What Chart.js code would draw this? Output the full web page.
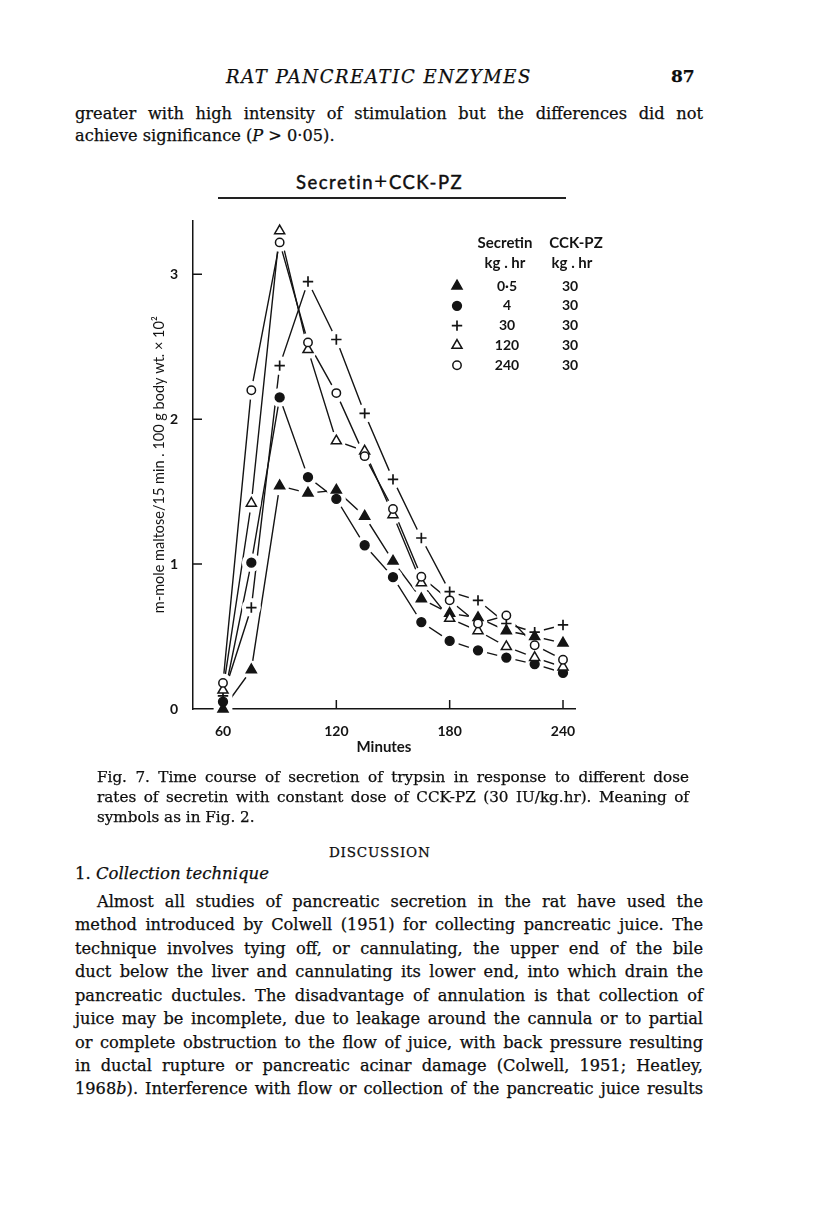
<!DOCTYPE html>
<html>
<head>
<meta charset="utf-8">
<script src="https://cdn.jsdelivr.net/npm/chart.js@4.4.0/dist/chart.umd.min.js"></script>
<style>
html, body { margin: 0; padding: 0; background: #fff; }
body { width: 816px; height: 1221px; position: relative; overflow: hidden; font-family: 'DejaVu Serif', serif; color: #0d0d0d; -webkit-text-stroke: 0.25px #0d0d0d; }
.t { position: absolute; white-space: nowrap; }
.jl { position: absolute; left: 75px; width: 628px; font-size: 16.2px; line-height: 20px; text-align: justify; text-align-last: justify; }
.cap { position: absolute; left: 97px; width: 592px; font-size: 15.2px; line-height: 18px; text-align: justify; text-align-last: justify; }
#wrap { position: absolute; left: 120px; top: 205px; width: 520px; height: 570px; }
</style>
</head>
<body>

<div class="t" style="left:226px;top:66px;font-size:18px;font-style:italic;letter-spacing:1.6px;">RAT PANCREATIC ENZYMES</div>
<div class="t" style="left:671px;top:66px;font-size:17px;font-weight:bold;">87</div>
<div class="jl" style="top:104px;">greater with high intensity of stimulation but the differences did not</div>
<div class="t" style="left:75px;top:126px;font-size:16.2px;">achieve significance (<i>P</i> &gt; 0·05).</div>

<div class="t" style="left:296px;top:171px;font-family:Lato,sans-serif;font-size:18.5px;letter-spacing:1.5px;-webkit-text-stroke:0.45px #141414;">Secretin<span style="font-size:23px;line-height:10px;-webkit-text-stroke:0;">+</span>CCK-PZ</div>
<div style="position:absolute;left:218px;top:197px;width:348px;height:1.6px;background:#222;"></div>

<div id="wrap"><canvas id="myChart" width="520" height="570"></canvas></div>

<div class="cap" style="top:768px;">Fig. 7. Time course of secretion of trypsin in response to different dose</div>
<div class="cap" style="top:788px;">rates of secretin with constant dose of CCK-PZ (30 IU/kg.hr). Meaning of</div>
<div class="t" style="left:97px;top:808px;font-size:15.2px;">symbols as in Fig. 2.</div>

<div class="t" style="left:329px;top:844px;font-size:13.5px;letter-spacing:0.8px;">DISCUSSION</div>
<div class="t" style="left:75px;top:864px;font-size:16.5px;">1. <i>Collection technique</i></div>

<div class="jl" style="top:892px;left:97px;width:606px;">Almost all studies of pancreatic secretion in the rat have used the</div>
<div class="jl" style="top:915px;">method introduced by Colwell (1951) for collecting pancreatic juice. The</div>
<div class="jl" style="top:939px;">technique involves tying off, or cannulating, the upper end of the bile</div>
<div class="jl" style="top:962px;">duct below the liver and cannulating its lower end, into which drain the</div>
<div class="jl" style="top:986px;">pancreatic ductules. The disadvantage of annulation is that collection of</div>
<div class="jl" style="top:1009px;">juice may be incomplete, due to leakage around the cannula or to partial</div>
<div class="jl" style="top:1033px;">or complete obstruction to the flow of juice, with back pressure resulting</div>
<div class="jl" style="top:1056px;">in ductal rupture or pancreatic acinar damage (Colwell, 1951; Heatley,</div>
<div class="jl" style="top:1079px;">1968<i>b</i>). Interference with flow or collection of the pancreatic juice results</div>

<script>
	// minutes after start, one value every 15 min
	var minutes = [60, 75, 90, 105, 120, 135, 150, 165, 180, 195, 210, 225, 240];
	var xTicks = [60, 120, 180, 240];
	var yTicks = [0, 1, 2, 3];

	// legend table
	var secretinDose = ['0·5', '4', '30', '120', '240'];
	var cckDose = ['30', '30', '30', '30', '30'];

	// m-mole maltose/15 min.100 g body wt. x 10^2
	var sec05  = [0.00, 0.27, 1.54, 1.49, 1.51, 1.33, 1.02, 0.76, 0.66, 0.63, 0.54, 0.50, 0.455];
	var sec4   = [0.05, 1.01, 2.15, 1.60, 1.45, 1.13, 0.91, 0.60, 0.47, 0.405, 0.355, 0.31, 0.25];
	var sec30  = [0.09, 0.70, 2.37, 2.95, 2.55, 2.04, 1.585, 1.18, 0.81, 0.75, 0.59, 0.53, 0.58];
	var sec120 = [0.13, 1.42, 3.30, 2.48, 1.85, 1.78, 1.34, 0.87, 0.625, 0.54, 0.43, 0.355, 0.29];
	var sec240 = [0.18, 2.20, 3.22, 2.53, 2.18, 1.745, 1.38, 0.913, 0.75, 0.59, 0.645, 0.44, 0.34];

	var ink = '#141414';
	var sansFont = 'Lato, "Open Sans", sans-serif';

	function pairs(vals) {
		return minutes.map(function(m, i) { return {x: m, y: vals[i]}; });
	}

	function series(vals, style, radius, fill) {
		return {
			data: pairs(vals),
			borderColor: ink,
			borderWidth: 1.4,
			pointStyle: style,
			pointRadius: radius,
			pointBackgroundColor: fill,
			pointBorderColor: ink,
			pointBorderWidth: style == 'cross' ? 1.7 : 1.5,
			tension: 0,
			fill: false,
			clip: 20
		};
	}

	// draw a marker shape the same way as the point elements
	function marker(ctx, style, x, y, r, fill) {
		ctx.beginPath();
		if (style == 'triangle') {
			ctx.moveTo(x, y - r);
			ctx.lineTo(x + r * Math.sin(Math.PI * 2 / 3), y + r / 2);
			ctx.lineTo(x - r * Math.sin(Math.PI * 2 / 3), y + r / 2);
			ctx.closePath();
		} else if (style == 'circle') {
			ctx.arc(x, y, r, 0, Math.PI * 2);
			ctx.closePath();
		} else {
			ctx.moveTo(x - r, y); ctx.lineTo(x + r, y);
			ctx.moveTo(x, y - r); ctx.lineTo(x, y + r);
		}
		if (style != 'cross') {
			ctx.fillStyle = fill;
			ctx.fill();
		}
		ctx.stroke();
	}

	// white halo round each point so lines stop short of the symbols
	var haloPlugin = {
		id: 'halo',
		afterDatasetsDraw: function(chart) {
			var ctx = chart.ctx;
			ctx.save();
			ctx.fillStyle = '#fff';
			chart.data.datasets.forEach(function(ds, i) {
				chart.getDatasetMeta(i).data.forEach(function(pt) {
					ctx.beginPath();
					ctx.arc(pt.x, pt.y, 9.5, 0, Math.PI * 2);
					ctx.fill();
				});
			});
			chart.data.datasets.forEach(function(ds, i) {
				chart.getDatasetMeta(i).data.forEach(function(pt) {
					pt.draw(ctx, chart.chartArea);
				});
			});
			ctx.restore();
		}
	};

	// inward tick marks and the legend table
	var extrasPlugin = {
		id: 'extras',
		afterDraw: function(chart) {
			var ctx = chart.ctx;
			var area = chart.chartArea;
			var xs = chart.scales.x, ys = chart.scales.y;
			ctx.save();
			ctx.strokeStyle = ink;
			ctx.lineWidth = 1.5;
			ctx.beginPath();
			yTicks.forEach(function(v) {
				if (v == 0) return;
				var py = ys.getPixelForValue(v);
				ctx.moveTo(area.left, py);
				ctx.lineTo(area.left + 9, py);
			});
			xTicks.forEach(function(v) {
				if (v == 60) return;
				var px = xs.getPixelForValue(v);
				ctx.moveTo(px, area.bottom);
				ctx.lineTo(px, area.bottom - 9);
			});
			ctx.stroke();

			// legend
			var symX = 337, col1 = 387, col2 = 450, top = 38;
			ctx.fillStyle = ink;
			ctx.font = 'bold 15px ' + sansFont;
			ctx.textAlign = 'center';
			ctx.textBaseline = 'middle';
			ctx.fillText('Secretin', col1 - 2, top);
			ctx.fillText('CCK-PZ', col2 + 6, top);
			ctx.fillText('kg . hr', col1 - 2, top + 20);
			ctx.fillText('kg . hr', col2 + 2, top + 20);
			ctx.font = 'bold 14px ' + sansFont;
			chart.data.datasets.forEach(function(ds, i) {
				var ry = top + 43 + i * 19.8;
				ctx.strokeStyle = ink;
				ctx.lineWidth = ds.pointBorderWidth;
				marker(ctx, ds.pointStyle, symX, ry, ds.pointRadius, ds.pointBackgroundColor);
				ctx.fillStyle = ink;
				ctx.fillText(secretinDose[i], col1, ry);
				ctx.fillText(cckDose[i], col2, ry);
			});
			ctx.restore();
		}
	};

	var ctxLine = document.getElementById('myChart').getContext('2d');
	var myLine = new Chart(ctxLine, {
		type: 'line',
		data: {
			datasets: [
				series(sec05, 'triangle', 5.8, ink),
				series(sec4, 'circle', 4.4, ink),
				series(sec30, 'cross', 5.2, ink),
				series(sec120, 'triangle', 5.8, '#fff'),
				series(sec240, 'circle', 4.2, '#fff')
			]
		},
		plugins: [haloPlugin, extrasPlugin],
		options: {
			responsive: false,
			animation: false,
			layout: {
				padding: {left: 0, right: 65, top: 13, bottom: 0}
			},
			plugins: {
				legend: {display: false},
				tooltip: {enabled: false}
			},
			scales: {
				x: {
					type: 'linear',
					min: 44.12,
					max: 246.35,
					afterBuildTicks: function(s) { s.ticks = xTicks.map(function(v) { return {value: v}; }); },
					afterFit: function(s) { s.height = 66; },
					grid: {display: false},
					border: {display: true, color: ink, width: 1.5},
					ticks: {
						padding: 6, color: ink, autoSkip: false, maxRotation: 0,
						font: {family: sansFont, size: 14, weight: 'bold'}
					},
					title: {
						display: true, text: 'Minutes', color: ink,
						padding: {top: 0, bottom: 19},
						font: {family: sansFont, size: 15, weight: 'bold'}
					}
				},
				y: {
					min: 0,
					max: 3.372,
					afterBuildTicks: function(s) { s.ticks = yTicks.map(function(v) { return {value: v}; }); },
					afterFit: function(s) { s.width = 73; },
					grid: {display: false},
					border: {display: true, color: ink, width: 1.5},
					ticks: {
						padding: 7, color: ink,
						font: {family: sansFont, size: 14, weight: 'bold'}
					},
					title: {
						display: true, text: 'm-mole maltose/15 min . 100 g body wt. × 10²', color: ink,
						padding: {top: 31, bottom: 0},
						font: {family: sansFont, size: 14.5}
					}
				}
			}
		}
	});
</script>
</body>
</html>
